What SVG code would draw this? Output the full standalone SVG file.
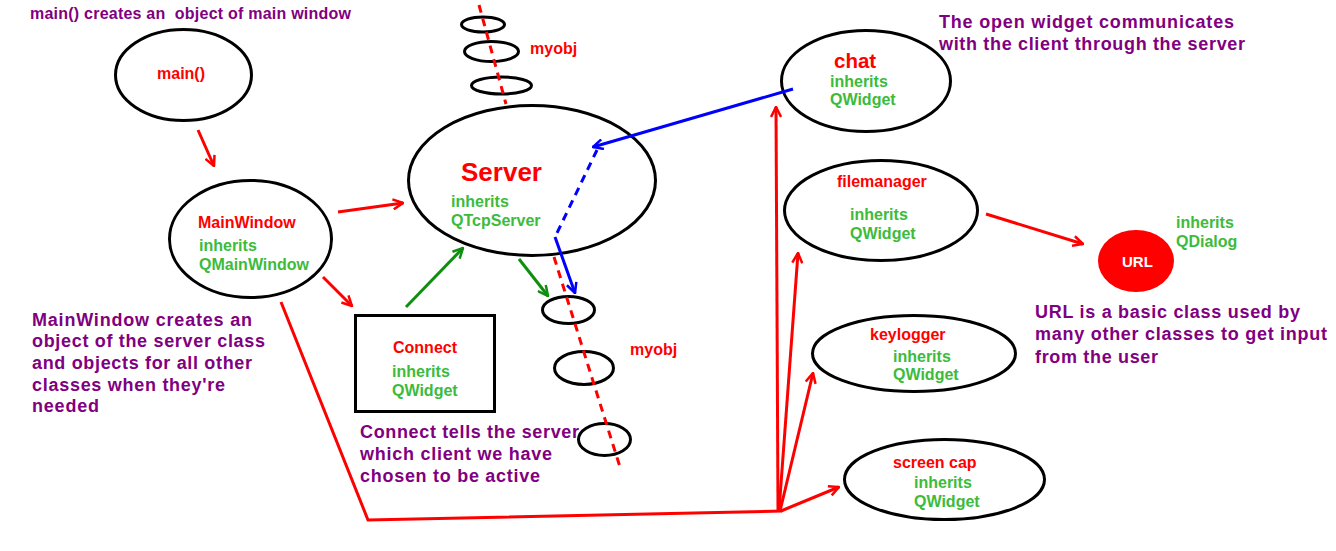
<svg xmlns="http://www.w3.org/2000/svg" width="1336" height="551" viewBox="0 0 1336 551">
<style>
text{font-family:"Liberation Sans",Arial,sans-serif;font-weight:bold}
.node{fill:none;stroke:#000;stroke-width:3}
.red{fill:#f00;font-size:16px}
.grn{fill:#3cbb3c;font-size:16px}
.note{fill:#800080;font-size:18px}
.title{fill:#800080;font-size:16px}
.rl{stroke:#f00;stroke-width:3;fill:none}
.gl{stroke:#0f8f0f;stroke-width:3;fill:none}
.bl{stroke:#00f;stroke-width:3;fill:none}
.dash{stroke-dasharray:8 6}
</style>
<defs>
<marker id="ar" viewBox="0 0 12 12" refX="11" refY="6" markerWidth="12" markerHeight="12" markerUnits="userSpaceOnUse" orient="auto"><path d="M1,1 L11,6 L1,11" fill="none" stroke="#f00" stroke-width="2.5"/></marker>
<marker id="ag" viewBox="0 0 12 12" refX="11" refY="6" markerWidth="12" markerHeight="12" markerUnits="userSpaceOnUse" orient="auto"><path d="M1,1 L11,6 L1,11" fill="none" stroke="#0f8f0f" stroke-width="2.5"/></marker>
<marker id="ab" viewBox="0 0 12 12" refX="11" refY="6" markerWidth="12" markerHeight="12" markerUnits="userSpaceOnUse" orient="auto"><path d="M1,1 L11,6 L1,11" fill="none" stroke="#00f" stroke-width="2.5"/></marker>
</defs>
<rect width="1336" height="551" fill="#fff"/>

<g id="notes">
<text class="title" x="30" y="19" textLength="321" lengthAdjust="spacing" xml:space="preserve">main() creates an  object of main window</text>
<text class="note" x="939" y="28" textLength="295" lengthAdjust="spacing">The open widget communicates</text>
<text class="note" x="939" y="50" textLength="306" lengthAdjust="spacing">with the client through the server</text>
<text class="note" x="32" y="326" textLength="220" lengthAdjust="spacing">MainWindow creates an</text>
<text class="note" x="32" y="347" textLength="233" lengthAdjust="spacing">object of the server class</text>
<text class="note" x="32" y="369" textLength="220" lengthAdjust="spacing">and objects for all other</text>
<text class="note" x="32" y="391" textLength="193" lengthAdjust="spacing">classes when they're</text>
<text class="note" x="32" y="412" textLength="67" lengthAdjust="spacing">needed</text>
<text class="note" x="360" y="438" textLength="219" lengthAdjust="spacing">Connect tells the server</text>
<text class="note" x="360" y="460" textLength="192" lengthAdjust="spacing">which client we have</text>
<text class="note" x="360" y="482" textLength="180" lengthAdjust="spacing">chosen to be active</text>
<text class="note" x="1035" y="318" textLength="265" lengthAdjust="spacing">URL is a basic class used by</text>
<text class="note" x="1035" y="340" textLength="292" lengthAdjust="spacing">many other classes to get input</text>
<text class="note" x="1035" y="363" textLength="123" lengthAdjust="spacing">from the user</text>
</g>

<g id="main">
<ellipse class="node" cx="183.5" cy="75" rx="68" ry="45.5"/>
<text class="red" x="157" y="79">main()</text>
</g>

<g id="mainwindow">
<ellipse class="node" cx="250.5" cy="239" rx="81" ry="58.5"/>
<text class="red" x="198" y="228">MainWindow</text>
<text class="grn" x="199" y="251">inherits</text>
<text class="grn" x="199" y="270">QMainWindow</text>
</g>

<g id="server">
<ellipse class="node" cx="532" cy="180.5" rx="123.5" ry="75"/>
<text class="red" x="461" y="181" style="font-size:26px">Server</text>
<text class="grn" x="451" y="207">inherits</text>
<text class="grn" x="451" y="226">QTcpServer</text>
</g>

<g id="myobj-top">
<ellipse class="node" cx="483" cy="24.5" rx="21.5" ry="7.5"/>
<ellipse class="node" cx="491.5" cy="51.5" rx="27" ry="10"/>
<ellipse class="node" cx="501.5" cy="85.5" rx="30" ry="8.5"/>
<text class="red" x="530" y="54">myobj</text>
</g>

<g id="myobj-bottom">
<ellipse class="node" cx="568.5" cy="310" rx="26" ry="13.5"/>
<ellipse class="node" cx="584" cy="368" rx="29.5" ry="16.5"/>
<ellipse class="node" cx="604.5" cy="439.5" rx="26" ry="16"/>
<text class="red" x="630" y="355">myobj</text>
</g>

<g id="connect">
<rect class="node" x="355.5" y="315.5" width="139" height="96"/>
<text class="red" x="393" y="353">Connect</text>
<text class="grn" x="392" y="377">inherits</text>
<text class="grn" x="392" y="396">QWidget</text>
</g>

<g id="chat">
<ellipse class="node" cx="866" cy="81" rx="84.5" ry="50.5"/>
<text class="red" x="834" y="68" style="font-size:20.5px">chat</text>
<text class="grn" x="830" y="87">inherits</text>
<text class="grn" x="830" y="105">QWidget</text>
</g>

<g id="filemanager">
<ellipse class="node" cx="881" cy="210.5" rx="96.5" ry="50"/>
<text class="red" x="837" y="187">filemanager</text>
<text class="grn" x="850" y="220">inherits</text>
<text class="grn" x="850" y="239">QWidget</text>
</g>

<g id="url">
<ellipse cx="1136" cy="261" rx="38" ry="31" fill="#f00"/>
<text x="1122" y="267" style="font-size:15px" fill="#fff">URL</text>
<text class="grn" x="1176" y="228">inherits</text>
<text class="grn" x="1176" y="247">QDialog</text>
</g>

<g id="keylogger">
<ellipse class="node" cx="914" cy="353.5" rx="101.5" ry="38"/>
<text class="red" x="870" y="340">keylogger</text>
<text class="grn" x="893" y="362">inherits</text>
<text class="grn" x="893" y="380">QWidget</text>
</g>

<g id="screencap">
<ellipse class="node" cx="944.5" cy="479.5" rx="100" ry="40"/>
<text class="red" x="893" y="468">screen cap</text>
<text class="grn" x="914" y="488">inherits</text>
<text class="grn" x="914" y="507">QWidget</text>
</g>

<g id="connectors">
<line class="rl dash" x1="479" y1="5" x2="506" y2="104"/>
<line class="rl dash" x1="554" y1="257" x2="620" y2="467"/>
<line class="rl" x1="198" y1="130" x2="214" y2="166" marker-end="url(#ar)"/>
<line class="rl" x1="338" y1="212" x2="403" y2="203" marker-end="url(#ar)"/>
<line class="rl" x1="323" y1="277" x2="352" y2="306" marker-end="url(#ar)"/>
<polyline class="rl" points="281,302 368,520 782,511"/>
<line class="rl" x1="778" y1="511" x2="776" y2="107" marker-end="url(#ar)"/>
<line class="rl" x1="779" y1="511" x2="798" y2="253" marker-end="url(#ar)"/>
<line class="rl" x1="780" y1="511" x2="813" y2="373" marker-end="url(#ar)"/>
<line class="rl" x1="781" y1="511" x2="839" y2="487" marker-end="url(#ar)"/>
<line class="rl" x1="986" y1="214" x2="1083" y2="244" marker-end="url(#ar)"/>
<line class="gl" x1="406" y1="307" x2="463" y2="248" marker-end="url(#ag)"/>
<line class="gl" x1="519" y1="259" x2="548" y2="296" marker-end="url(#ag)"/>
<line class="bl" x1="793" y1="89" x2="593" y2="147" marker-end="url(#ab)"/>
<line class="bl dash" x1="597" y1="150" x2="557" y2="233"/>
<line class="bl" x1="555" y1="237" x2="575" y2="293" marker-end="url(#ab)"/>
</g>
</svg>
